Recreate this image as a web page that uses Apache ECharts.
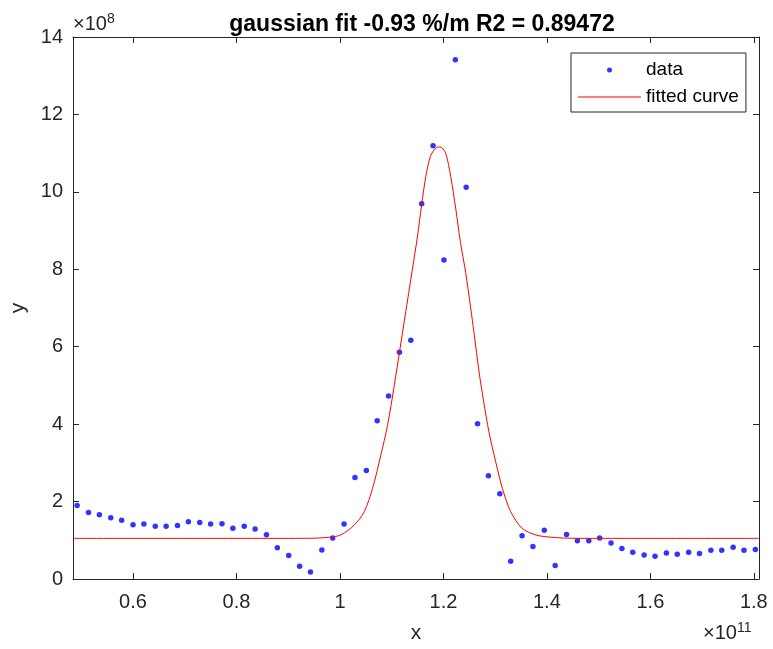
<!DOCTYPE html>
<html>
<head>
<meta charset="utf-8">
<script src="https://cdn.jsdelivr.net/npm/echarts@6.0.0/dist/echarts.min.js"></script>
<style>
  html, body { margin: 0; padding: 0; background: #fff; }
  #chart { width: 773px; height: 649px; }
</style>
</head>
<body>
<div id="chart"></div>
<script>
// x in units of 1e11, y in units of 1e8
const dataX = [
  0.492, 0.514, 0.535, 0.557, 0.578, 0.600, 0.621, 0.643, 0.664, 0.686,
  0.707, 0.729, 0.750, 0.772, 0.793, 0.815, 0.836, 0.858, 0.879, 0.901,
  0.922, 0.943, 0.965, 0.986, 1.008, 1.029, 1.051, 1.072, 1.094, 1.115,
  1.137, 1.158, 1.180, 1.201, 1.223, 1.244, 1.266, 1.287, 1.309, 1.330,
  1.352, 1.373, 1.395, 1.416, 1.438, 1.459, 1.481, 1.502, 1.524, 1.545,
  1.566, 1.588, 1.609, 1.631, 1.652, 1.674, 1.695, 1.717, 1.738, 1.760,
  1.781, 1.803
];
const dataY = [
  1.90, 1.72, 1.66, 1.58, 1.52, 1.40, 1.42, 1.36, 1.36, 1.38,
  1.48, 1.46, 1.42, 1.43, 1.31, 1.36, 1.29, 1.14, 0.81, 0.61,
  0.33, 0.18, 0.75, 1.06, 1.42, 2.62, 2.80, 4.09, 4.73, 5.86,
  6.17, 9.69, 11.19, 8.24, 13.41, 10.12, 4.01, 2.67, 2.20, 0.46,
  1.12, 0.84, 1.26, 0.35, 1.15, 0.99, 0.99, 1.06, 0.93, 0.79,
  0.69, 0.62, 0.59, 0.67, 0.64, 0.69, 0.66, 0.74, 0.74, 0.82,
  0.74, 0.76
];

// fitted curve
const fitX = [
  0.484, 0.900, 0.950, 0.980, 1.002, 1.028, 1.047, 1.063, 1.079, 1.092,
  1.105, 1.116, 1.126, 1.140, 1.150, 1.158, 1.166, 1.175, 1.185, 1.193,
  1.204, 1.214, 1.224, 1.233, 1.243, 1.253, 1.259, 1.269, 1.278, 1.288,
  1.301, 1.314, 1.330, 1.352, 1.378, 1.400, 1.430, 1.470, 1.810
];
const fitY = [
  1.05, 1.05, 1.055, 1.08, 1.14, 1.40, 1.74, 2.34, 3.20, 3.97,
  5.00, 5.94, 6.80, 8.00, 8.86, 9.68, 10.40, 10.92, 11.13, 11.16,
  11.01, 10.40, 9.55, 8.69, 7.92, 6.97, 6.37, 5.34, 4.57, 3.80,
  3.03, 2.34, 1.74, 1.31, 1.14, 1.09, 1.06, 1.05, 1.05
];

const xTicks = [0.6, 0.8, 1.0, 1.2, 1.4, 1.6, 1.8];
const titleText = 'gaussian fit -0.93 %/m R2 = 0.89472';

const axisColor = '#262626';
const font = 'Liberation Sans, Arial, Helvetica, sans-serif';

const chart = echarts.init(document.getElementById('chart'));

const xBase = {
  type: 'value',
  min: 0.484,
  max: 1.81,
  axisLine: { show: true, onZero: false, lineStyle: { color: axisColor, width: 1 } },
  axisTick: { show: true, inside: true, length: 6, customValues: xTicks, lineStyle: { color: axisColor } },
  splitLine: { show: false }
};
const yBase = {
  type: 'value',
  min: 0,
  max: 14,
  interval: 2,
  axisLine: { show: true, onZero: false, lineStyle: { color: axisColor, width: 1 } },
  axisTick: { show: true, inside: true, length: 6, lineStyle: { color: axisColor } },
  splitLine: { show: false }
};

const expRich = {
  s: { fontSize: 14, verticalAlign: 'top', padding: [0, 0, 10, 0], fill: axisColor, fontFamily: font }
};

const option = {
  backgroundColor: '#fff',
  animation: false,
  title: {
    text: titleText,
    left: 417,
    top: 8,
    textAlign: 'center',
    textStyle: { color: '#000', fontSize: 23, fontWeight: 'bold', fontFamily: font }
  },
  grid: { left: 72, right: 14, top: 37, bottom: 68 },
  legend: {
    orient: 'vertical',
    left: 571,
    top: 53,
    padding: [7, 7, 5, 7],
    itemGap: 7,
    itemWidth: 63,
    itemHeight: 5,
    itemTextGap: 6,
    borderColor: axisColor,
    borderWidth: 1,
    backgroundColor: '#fff',
    textStyle: { color: '#000', fontSize: 19, lineHeight: 20, fontFamily: font },
    data: [
      { name: 'data', icon: 'circle' },
      { name: 'fitted curve', icon: 'path://M0,0L63,0L63,1L0,1Z' }
    ]
  },
  xAxis: [
    Object.assign({}, xBase, {
      position: 'bottom',
      name: 'x',
      nameLocation: 'middle',
      nameGap: 44,
      nameTextStyle: { color: axisColor, fontSize: 21, fontFamily: font },
      axisLabel: {
        show: true,
        customValues: xTicks,
        margin: 13,
        color: axisColor,
        fontSize: 20,
        fontFamily: font,
        formatter: v => String(+v.toFixed(1))
      }
    }),
    Object.assign({}, xBase, { position: 'top', axisLabel: { show: false } })
  ],
  yAxis: [
    Object.assign({}, yBase, {
      position: 'left',
      name: 'y',
      nameLocation: 'middle',
      nameGap: 44,
      nameTextStyle: { color: axisColor, fontSize: 21, fontFamily: font },
      axisLabel: { show: true, margin: 10, color: axisColor, fontSize: 20, fontFamily: font }
    }),
    Object.assign({}, yBase, { position: 'right', axisLabel: { show: false } })
  ],
  graphic: [
    {
      type: 'text',
      left: 73,
      top: 12,
      style: {
        text: '×10{s|8}',
        fill: axisColor,
        font: '20px ' + font,
        rich: expRich
      }
    },
    {
      type: 'text',
      left: 703,
      top: 621,
      style: {
        text: '×10{s|11}',
        fill: axisColor,
        font: '20px ' + font,
        rich: expRich
      }
    }
  ],
  series: [
    {
      name: 'data',
      type: 'scatter',
      symbol: 'circle',
      symbolSize: 5.5,
      itemStyle: { color: '#0000ff' },
      data: dataX.map((x, i) => [x, dataY[i]])
    },
    {
      name: 'fitted curve',
      type: 'line',
      symbol: 'none',
      smooth: 0.3,
      lineStyle: { color: '#ff0000', width: 1 },
      itemStyle: { color: '#ff0000' },
      data: fitX.map((x, i) => [x, fitY[i]])
    }
  ]
};

chart.setOption(option);
</script>
</body>
</html>
